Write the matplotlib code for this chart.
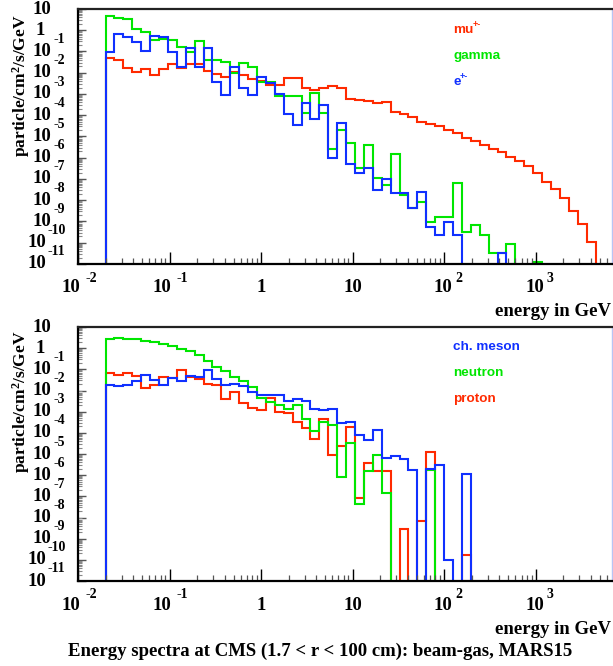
import numpy as np
import matplotlib
matplotlib.use("Agg")
import matplotlib.pyplot as plt
import matplotlib.transforms as mtransforms

plt.rcParams['mathtext.fontset'] = 'custom'
plt.rcParams['mathtext.rm'] = 'Liberation Serif:bold'
plt.rcParams['mathtext.bf'] = 'Liberation Serif:bold'
plt.rcParams['mathtext.it'] = 'Liberation Serif:bold'

# ---------------- data (log10 of particle/cm^2/s/GeV per bin, None = empty) -------------
E_MIN, E_MAX, N_BINS = 0.02, 4500.0, 55

top_mu = [-1.32, -1.40, -1.79, -1.95, -1.84, -2.11, -1.84, -1.60, -1.76, -1.60,
          -1.60, -1.90, -2.06, -2.18, -1.95, -2.11, -2.29, -2.37, -2.58, -2.58,
          -2.23, -2.26, -2.70, -2.81, -2.70, -2.62, -2.70, -3.24, -3.30, -3.35,
          -3.44, -3.39, -3.83, -3.93, -4.08, -4.30, -4.40, -4.49, -4.69, -4.85,
          -5.05, -5.20, -5.40, -5.59, -5.75, -5.95, -6.14, -6.39, -6.73, -7.13,
          -7.47, -7.91, -8.49, -9.12, -9.98]
top_gamma = [0.69, 0.59, 0.53, 0.06, -0.07, -0.46, -0.41, -0.44, -0.77, -1.01,
             -0.49, -1.40, -1.40, -1.48, -2.03, -1.53, -1.75, -2.45, -2.42, -3.11,
             -3.08, -3.08, -3.91, -2.97, -3.91, -5.59, -4.69, -5.32, -6.50, -5.40,
             -6.94, -7.28, -5.84, -7.75, -8.35, -8.07, -9.04, -8.77, -8.77, -7.20,
             -9.48, -9.16, -9.64, -10.50, -10.50, -10.07, None, None, -10.89, None,
             None, None, None, None, None]
top_e = [-1.01, -0.19, -0.33, -0.57, -0.98, -0.27, -0.33, -1.01, -1.73, -0.85,
         -1.71, -0.85, -2.42, -3.05, -1.75, -2.73, -3.05, -2.18, -2.50, -3.02,
         -3.96, -4.46, -3.41, -4.18, -3.52, -6.00, -4.35, -6.31, -6.73, -6.47,
         -7.52, -7.00, -7.67, -7.67, -8.35, -7.63, -9.24, -9.64, -9.04, -9.64,
         None, None, None, None, -10.50, None, None, None, None, None,
         None, None, None, None, None]

bot_meson = [-1.76, -1.79, -1.76, -1.55, -1.25, -1.49, -1.76, -1.41, -1.57, -1.31,
             -1.36, -1.05, -1.44, -1.76, -1.68, -1.79, -2.07, -2.20, -2.20, -2.23,
             -2.50, -2.39, -2.50, -2.89, -2.94, -2.89, -3.54, -3.49, -4.12, -4.35,
             -3.88, -5.19, -5.11, -5.22, -5.77, None, -5.69, -5.54, -10.02, None,
             -5.96, None, None, None, None, None, None, None, None, None,
             None, None, None, None, None]
bot_neutron = [0.42, 0.50, 0.42, 0.45, 0.34, 0.29, 0.21, 0.09, -0.02, -0.13,
               -0.31, -0.61, -0.89, -1.09, -1.36, -1.57, -1.83, -2.35, -2.54, -2.70,
               -2.89, -2.70, -3.36, -3.93, -3.49, -3.61, -6.09, -4.46, -7.35, -5.82,
               -5.06, -6.83, None, None, None, None, -5.77, None, None, None,
               None, None, None, None, None, None, None, None, None, None,
               None, None, None, None, None]
bot_proton = [-1.17, -1.28, -1.16, -1.31, -1.88, -1.76, -1.36, -1.41, -1.05, -1.36,
              -1.47, -1.68, -1.76, -2.39, -2.07, -2.57, -2.81, -2.94, -2.35, -3.02,
              -3.05, -3.49, -3.77, -4.28, -3.33, -5.03, -4.64, -3.72, -7.08, -5.41,
              -5.80, -5.80, None, -8.53, None, -8.17, -4.91, None, None, None,
              -9.79, None, None, None, None, None, None, None, None, None,
              None, None, None, None, None]

top_labels = ["mu", "gamma", "e"]
top_sups = ["+-", "", "+-"]
bot_labels = ["ch. meson", "neutron", "proton"]

x_decades = [-2, -1, 0, 1, 2, 3]
y_decades = list(range(1, -12, -1))

title = "Energy spectra at CMS (1.7 < r < 100 cm): beam-gas, MARS15"
xlabel = "energy in GeV"

RED, GREEN, BLUE = "#ff2a00", "#00e600", "#1030ff"
# ------------------------------------------------------------------------------------------

edges = np.geomspace(E_MIN, E_MAX, N_BINS + 1)
FLOOR = 1e-30


def to_vals(lst):
    return np.array([10.0 ** v if v is not None else FLOOR for v in lst])


W, H = 613, 666
fig = plt.figure(figsize=(W / 100, H / 100), dpi=100)
ax1 = fig.add_axes([78 / W, 1 - 264 / H, 534 / W, 255 / H])
ax2 = fig.add_axes([78 / W, 1 - 581 / H, 534 / W, 254 / H])

SERIF = "Liberation Serif"
SANS = "Liberation Sans"
TFS, EFS = 13.5, 10


def style_axes(ax):
    ax.set_xscale("log")
    ax.set_yscale("log")
    ax.set_xticks([10.0 ** d for d in x_decades] + [1e4])
    ax.set_yticks([10.0 ** d for d in y_decades])
    ax.xaxis.set_minor_locator(matplotlib.ticker.LogLocator(base=10, subs=np.arange(2, 10)))
    ax.yaxis.set_minor_locator(matplotlib.ticker.LogLocator(base=10, subs=np.arange(2, 10), numticks=30))
    ax.set_xlim(0.01, 6800)
    ax.set_ylim(1e-11, 10)
    ax.tick_params(axis="x", which="major", direction="in", length=9, width=1.0, color="black",
                   labelbottom=False, top=False)
    ax.tick_params(axis="x", which="minor", direction="in", length=4.5, width=0.9, color="#555555",
                   labelbottom=False, top=False)
    ax.tick_params(axis="y", which="major", direction="in", length=6, width=1.0, color="#555555",
                   labelleft=False, right=False)
    ax.tick_params(axis="y", which="minor", direction="in", length=3, width=0.8, color="#888888",
                   labelleft=False, right=False)
    for s in ["left", "bottom"]:
        ax.spines[s].set_linewidth(1.6)
        ax.spines[s].set_color("black")
    ax.spines["top"].set_linewidth(1.6)
    ax.spines["top"].set_color("#222222")
    ax.spines["right"].set_linewidth(1.0)
    ax.spines["right"].set_color("#b8c4f4")

    # y tick labels (ROOT style: "10" with raised exponent)
    ytr = mtransforms.blended_transform_factory(fig.transFigure, ax.transData)
    for d in y_decades:
        yv = 10.0 ** d
        if d == 1:
            fig.text(51 / W, yv, "10", transform=ytr, ha="right", va="center",
                     fontsize=TFS, fontweight="bold", family=SERIF)
        elif d == 0:
            fig.text(45 / W, yv, "1", transform=ytr, ha="right", va="center",
                     fontsize=TFS, fontweight="bold", family=SERIF)
        else:
            exp = str(d)
            if len(exp) == 2:
                x10, xe = 51, 54
            else:
                x10, xe = 46, 47
            fig.text(x10 / W, yv, "10", transform=ytr, ha="right", va="center",
                     fontsize=TFS, fontweight="bold", family=SERIF)
            t2 = mtransforms.offset_copy(ytr, fig=fig, x=0, y=12, units="dots")
            fig.text(xe / W, yv, exp, transform=t2, ha="left", va="center",
                     fontsize=EFS, fontweight="bold", family=SERIF)


def xtick_labels(ax, y10_px, yexp_px):
    xtr = mtransforms.blended_transform_factory(ax.transData, fig.transFigure)
    for d in x_decades:
        xv = 10.0 ** d
        if d == 0:
            fig.text(xv, 1 - y10_px / H, "1", transform=xtr, ha="center", va="center",
                     fontsize=TFS, fontweight="bold", family=SERIF)
        elif d == 1:
            fig.text(xv, 1 - y10_px / H, "10", transform=xtr, ha="center", va="center",
                     fontsize=TFS, fontweight="bold", family=SERIF)
        else:
            if d < 0:
                d10, de = 2, 7
            else:
                d10, de = 8, 11
            t1 = mtransforms.offset_copy(xtr, fig=fig, x=d10, y=0, units="dots")
            fig.text(xv, 1 - y10_px / H, "10", transform=t1, ha="right", va="center",
                     fontsize=TFS, fontweight="bold", family=SERIF)
            t2 = mtransforms.offset_copy(xtr, fig=fig, x=de, y=0, units="dots")
            fig.text(xv, 1 - yexp_px / H, str(d), transform=t2, ha="left", va="center",
                     fontsize=EFS, fontweight="bold", family=SERIF)


def legend(labels, sups, colors, y_px_list):
    for lab, sup, col, ypx in zip(labels, sups, colors, y_px_list):
        t = fig.text(453 / W, 1 - ypx / H, lab, ha="left", va="center", color=col,
                     fontsize=9.7, fontweight="bold", family=SANS)
        if sup:
            fig.canvas.draw()
            bb = t.get_window_extent()
            fig.text((bb.x1 - 0.5) / W, 1 - (ypx - 6) / H, sup, ha="left", va="center", color=col,
                     fontsize=6.5, fontweight="bold", family=SANS)


for ax in (ax1, ax2):
    style_axes(ax)

ax1.stairs(to_vals(top_mu), edges, baseline=FLOOR, color=RED, lw=1.5)
ax1.stairs(to_vals(top_gamma), edges, baseline=FLOOR, color=GREEN, lw=1.5)
ax1.stairs(to_vals(top_e), edges, baseline=FLOOR, color=BLUE, lw=1.5)

ax2.stairs(to_vals(bot_proton), edges, baseline=FLOOR, color=RED, lw=1.5)
ax2.stairs(to_vals(bot_neutron), edges, baseline=FLOOR, color=GREEN, lw=1.5)
ax2.stairs(to_vals(bot_meson), edges, baseline=FLOOR, color=BLUE, lw=1.5)

for ax in (ax1, ax2):
    ax.set_xlim(0.01, 6800)
    ax.set_ylim(1e-11, 10)

xtick_labels(ax1, 288, 278)
xtick_labels(ax2, 605, 595)

fig.text(611 / W, 1 - 311 / H, xlabel, ha="right", va="center", fontsize=13.5,
         fontweight="bold", family=SERIF)
fig.text(611 / W, 1 - 629 / H, xlabel, ha="right", va="center", fontsize=13.5,
         fontweight="bold", family=SERIF)

ylab = r"particle/cm$^{2}$/s/GeV"
fig.text(21 / W, 1 - 86 / H, ylab, rotation=90, ha="center", va="center", fontsize=12.5,
         fontweight="bold", family=SERIF)
fig.text(21 / W, 1 - 402 / H, ylab, rotation=90, ha="center", va="center", fontsize=12.5,
         fontweight="bold", family=SERIF)

legend(top_labels, top_sups, [RED, GREEN, BLUE], [30, 56, 82])
legend(bot_labels, ["", "", ""], [BLUE, GREEN, RED], [347, 373, 399])

fig.text(320 / W, 1 - 651 / H, title, ha="center", va="center", fontsize=13.5,
         fontweight="bold", family=SERIF)

fig.savefig("out.png", dpi=100)
